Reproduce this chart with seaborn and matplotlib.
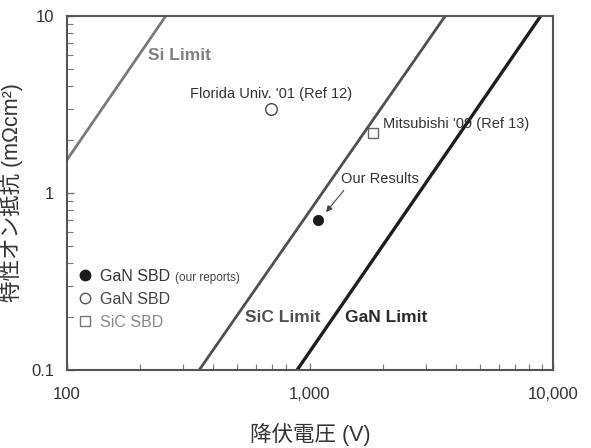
import numpy as np
import pandas as pd
import matplotlib
matplotlib.use("Agg")
import matplotlib.pyplot as plt
import seaborn as sns
from matplotlib.lines import Line2D
from matplotlib.ticker import FixedLocator, FuncFormatter, LogLocator, NullFormatter

# limit lines (end points)
si_v = [100, 255]
si_r = [1.54, 10]
sic_v = [350, 3600]
sic_r = [0.1, 10]
gan_v = [885, 8900]
gan_r = [0.1, 10]

# device points
ours_v = [1080]
ours_r = [0.70]
florida_v = [692]
florida_r = [2.98]
mitsu_v = [1810]
mitsu_r = [2.19]

x_ticks = [100, 1000, 10000]
y_ticks = [0.1, 1, 10]

sns.set_style("ticks")
plt.rcParams['font.family'] = ['Liberation Sans', 'Noto Sans CJK JP', 'DejaVu Sans']

fig = plt.figure(figsize=(5.91, 4.48), dpi=100)
ax = fig.add_axes([67 / 591, 1 - 370 / 448, 486 / 591, 354 / 448])
ax.set_xscale('log')
ax.set_yscale('log')

sns.lineplot(x=si_v, y=si_r, ax=ax, color='#7a7a7a', lw=2.0)
sns.lineplot(x=sic_v, y=sic_r, ax=ax, color='#505050', lw=2.0)
sns.lineplot(x=gan_v, y=gan_r, ax=ax, color='#1e1e1e', lw=2.4)

sns.scatterplot(x=ours_v, y=ours_r, ax=ax, marker='o', s=55, color='#1a1a1a',
                edgecolor='#1a1a1a', zorder=5)
sns.scatterplot(x=florida_v, y=florida_r, ax=ax, marker='o', s=70, facecolor='white',
                edgecolor='#444444', linewidth=1.0, zorder=5)
sns.scatterplot(x=mitsu_v, y=mitsu_r, ax=ax, marker='s', s=50, facecolor='white',
                edgecolor='#666666', linewidth=1.0, zorder=5)

ax.set_xlim(100, 10000)
ax.set_ylim(0.1, 10)

# labels on the plot
ax.text(215, 6.0, 'Si Limit', fontsize=12.5, fontweight='bold', color='#808080', va='center')
ax.text(540, 0.197, 'SiC Limit', fontsize=12.5, fontweight='bold', color='#505050', va='center')
ax.text(1395, 0.197, 'GaN Limit', fontsize=12.5, fontweight='bold', color='#2a2a2a', va='center')
ax.text(692, 3.62, "Florida Univ. '01 (Ref 12)", fontsize=10.5, color='#333333',
        ha='center', va='center')
ax.text(1995, 2.45, "Mitsubishi '09 (Ref 13)", fontsize=10.5, color='#333333',
        ha='left', va='center')
ax.annotate('Our Results', xy=(1165, 0.78), xytext=(1942, 1.2),
            fontsize=10.5, color='#333333', ha='center', va='center',
            arrowprops=dict(arrowstyle='-|>', color='#444444', lw=0.8,
                            mutation_scale=9, shrinkA=1, shrinkB=0, relpos=(0.08, 0.0)))

# legend
handles = [
    Line2D([], [], ls='none', marker='o', ms=7.5, mfc='#1a1a1a', mec='#1a1a1a'),
    Line2D([], [], ls='none', marker='o', ms=7.5, mfc='white', mec='#555555', mew=1.0),
    Line2D([], [], ls='none', marker='s', ms=6.5, mfc='white', mec='#777777', mew=1.0),
]
leg = ax.legend(handles, ['GaN SBD', 'GaN SBD', 'SiC SBD'], loc='upper left',
                bbox_to_anchor=(-0.012, 0.317), frameon=False, fontsize=11.5,
                handletextpad=0.1, labelspacing=0.5, handlelength=1.6, borderpad=0.2)
for t, c in zip(leg.get_texts(), ['#333333', '#444444', '#888888']):
    t.set_color(c)
ax.text(278, 0.331, '(our reports)', fontsize=8.5, color='#444444', va='center')

# axes styling
for s in ax.spines.values():
    s.set_color('#555555')
    s.set_linewidth(1.5)
ax.xaxis.set_major_locator(FixedLocator(x_ticks))
ax.yaxis.set_major_locator(FixedLocator(y_ticks))
ax.xaxis.set_minor_locator(LogLocator(base=10, subs=np.arange(2, 10)))
ax.yaxis.set_minor_locator(LogLocator(base=10, subs=np.arange(2, 10)))
ax.xaxis.set_major_formatter(FuncFormatter(lambda v, p: f"{v:,.0f}"))
ax.yaxis.set_major_formatter(FuncFormatter(lambda v, p: f"{v:g}"))
ax.xaxis.set_minor_formatter(NullFormatter())
ax.yaxis.set_minor_formatter(NullFormatter())
ax.tick_params(which='both', direction='in', top=False, right=False, color='#777777',
               labelsize=12, labelcolor='#333333')
ax.tick_params(axis='x', which='major', pad=12)
ax.tick_params(axis='y', which='major', pad=9)
ax.tick_params(which='major', length=5, width=1.0)
ax.tick_params(which='minor', length=4, width=0.8)

ax.set_xlabel('降伏電圧 (V)', fontsize=15.5, color='#333333', labelpad=15)
ax.set_ylabel('特性オン抵抗 (mΩcm²)', fontsize=15.5, color='#333333', labelpad=6)

fig.savefig('out.png', dpi=100, facecolor='white')
